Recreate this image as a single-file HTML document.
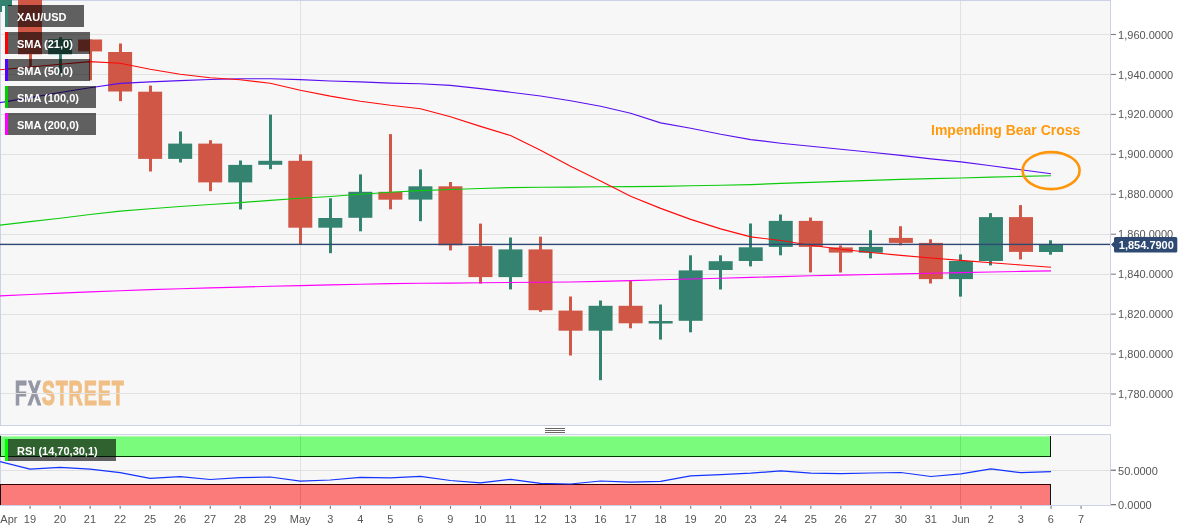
<!DOCTYPE html>
<html lang="en"><head><meta charset="utf-8"><title>XAU/USD daily chart</title>
<style>html,body{margin:0;padding:0;background:#fff;}body{width:1194px;height:532px;overflow:hidden;font-family:"Liberation Sans", Arial, Helvetica, sans-serif;}svg{display:block}</style>
</head><body>
<svg width="1194" height="532" viewBox="0 0 1194 532" font-family='"Liberation Sans", Arial, Helvetica, sans-serif'>
<rect width="1194" height="532" fill="#ffffff"/>
<g shape-rendering="crispEdges">
<rect x="0" y="0" width="1111" height="426" fill="#ccd2e5"/>
<rect x="1" y="1" width="1109" height="424" fill="#f7f7f7"/>
</g>
<g transform="translate(14.8 404.9) scale(0.56 1)" font-weight="bold" font-size="35.4px" letter-spacing="1.4" stroke-width="1.1"><text x="0" y="0" fill="#9497a4" stroke="#9497a4">FX<tspan fill="#f0bf86" stroke="#f0bf86">STREET</tspan></text></g>
<g shape-rendering="crispEdges" fill="#e1e1e1">
<rect x="1" y="34" width="1109" height="1"/>
<rect x="1" y="74" width="1109" height="1"/>
<rect x="1" y="114" width="1109" height="1"/>
<rect x="1" y="154" width="1109" height="1"/>
<rect x="1" y="194" width="1109" height="1"/>
<rect x="1" y="234" width="1109" height="1"/>
<rect x="1" y="274" width="1109" height="1"/>
<rect x="1" y="314" width="1109" height="1"/>
<rect x="1" y="353" width="1109" height="1"/>
<rect x="1" y="393" width="1109" height="1"/>
<rect x="300" y="1" width="1" height="424"/>
<rect x="960" y="1" width="1" height="424"/>
</g>
<defs><clipPath id="cm"><rect x="0" y="0" width="1110" height="425"/></clipPath><clipPath id="cr"><rect x="0" y="435" width="1110" height="71"/></clipPath></defs>
<g clip-path="url(#cm)">
<g>
<rect x="-1" y="-2.0" width="3" height="14.0" fill="#348370"/>
<rect x="-12.00" y="-2.0" width="24" height="8.0" fill="#348370"/>
<rect x="29" y="-2.0" width="3" height="68.6" fill="#d05646"/>
<rect x="18.03" y="-2.0" width="24" height="56.3" fill="#d05646"/>
<rect x="59" y="37.2" width="3" height="37.3" fill="#348370"/>
<rect x="48.06" y="39.2" width="24" height="15.1" fill="#348370"/>
<rect x="89" y="39.5" width="3" height="40.7" fill="#d05646"/>
<rect x="78.09" y="39.5" width="24" height="11.9" fill="#d05646"/>
<rect x="119" y="43.5" width="3" height="57.6" fill="#d05646"/>
<rect x="108.12" y="52.0" width="24" height="39.5" fill="#d05646"/>
<rect x="149" y="85.6" width="3" height="85.9" fill="#d05646"/>
<rect x="138.15" y="91.7" width="24" height="67.2" fill="#d05646"/>
<rect x="179" y="131.5" width="3" height="31.0" fill="#348370"/>
<rect x="168.17" y="143.6" width="24" height="15.3" fill="#348370"/>
<rect x="209" y="140.2" width="3" height="51.0" fill="#d05646"/>
<rect x="198.20" y="143.6" width="24" height="38.8" fill="#d05646"/>
<rect x="239" y="160.5" width="3" height="48.9" fill="#348370"/>
<rect x="228.23" y="164.9" width="24" height="17.5" fill="#348370"/>
<rect x="269" y="114.6" width="3" height="54.6" fill="#348370"/>
<rect x="258.26" y="160.8" width="24" height="4.0" fill="#348370"/>
<rect x="299" y="154.4" width="3" height="90.1" fill="#d05646"/>
<rect x="288.29" y="160.8" width="24" height="66.9" fill="#d05646"/>
<rect x="329" y="198.3" width="3" height="54.9" fill="#348370"/>
<rect x="318.32" y="218.0" width="24" height="9.7" fill="#348370"/>
<rect x="359" y="174.4" width="3" height="56.9" fill="#348370"/>
<rect x="348.35" y="191.8" width="24" height="26.0" fill="#348370"/>
<rect x="389" y="134.1" width="3" height="75.2" fill="#d05646"/>
<rect x="378.38" y="191.8" width="24" height="7.9" fill="#d05646"/>
<rect x="419" y="169.4" width="3" height="51.8" fill="#348370"/>
<rect x="408.41" y="186.3" width="24" height="13.3" fill="#348370"/>
<rect x="449" y="182.0" width="3" height="68.4" fill="#d05646"/>
<rect x="438.44" y="186.3" width="24" height="59.0" fill="#d05646"/>
<rect x="479" y="223.6" width="3" height="60.0" fill="#d05646"/>
<rect x="468.46" y="246.1" width="24" height="31.0" fill="#d05646"/>
<rect x="509" y="237.5" width="3" height="51.9" fill="#348370"/>
<rect x="498.49" y="249.4" width="24" height="27.7" fill="#348370"/>
<rect x="539" y="236.7" width="3" height="75.1" fill="#d05646"/>
<rect x="528.52" y="249.4" width="24" height="60.8" fill="#d05646"/>
<rect x="569" y="296.5" width="3" height="59.0" fill="#d05646"/>
<rect x="558.55" y="310.6" width="24" height="20.1" fill="#d05646"/>
<rect x="599" y="300.5" width="3" height="79.7" fill="#348370"/>
<rect x="588.58" y="305.8" width="24" height="24.9" fill="#348370"/>
<rect x="629" y="280.5" width="3" height="47.8" fill="#d05646"/>
<rect x="618.61" y="305.8" width="24" height="17.5" fill="#d05646"/>
<rect x="659" y="304.5" width="3" height="35.1" fill="#348370"/>
<rect x="648.64" y="321.0" width="24" height="2.5" fill="#348370"/>
<rect x="689" y="255.3" width="3" height="77.0" fill="#348370"/>
<rect x="678.67" y="270.4" width="24" height="50.4" fill="#348370"/>
<rect x="719" y="255.3" width="3" height="34.2" fill="#348370"/>
<rect x="708.70" y="261.2" width="24" height="8.8" fill="#348370"/>
<rect x="749" y="223.5" width="3" height="42.9" fill="#348370"/>
<rect x="738.73" y="247.3" width="24" height="13.7" fill="#348370"/>
<rect x="779" y="214.5" width="3" height="40.8" fill="#348370"/>
<rect x="768.75" y="220.9" width="24" height="26.0" fill="#348370"/>
<rect x="809" y="217.5" width="3" height="54.9" fill="#d05646"/>
<rect x="798.78" y="220.9" width="24" height="26.0" fill="#d05646"/>
<rect x="839" y="245.5" width="3" height="27.0" fill="#d05646"/>
<rect x="828.81" y="247.4" width="24" height="5.2" fill="#d05646"/>
<rect x="869" y="230.2" width="3" height="28.2" fill="#348370"/>
<rect x="858.84" y="246.9" width="24" height="5.8" fill="#348370"/>
<rect x="899" y="226.2" width="3" height="19.1" fill="#d05646"/>
<rect x="888.87" y="237.9" width="24" height="5.0" fill="#d05646"/>
<rect x="929" y="239.3" width="3" height="44.2" fill="#d05646"/>
<rect x="918.90" y="242.9" width="24" height="36.2" fill="#d05646"/>
<rect x="959" y="254.4" width="3" height="42.2" fill="#348370"/>
<rect x="948.93" y="261.0" width="24" height="18.1" fill="#348370"/>
<rect x="989" y="213.1" width="3" height="52.3" fill="#348370"/>
<rect x="978.96" y="217.1" width="24" height="43.9" fill="#348370"/>
<rect x="1019" y="205.1" width="3" height="54.3" fill="#d05646"/>
<rect x="1008.99" y="217.1" width="24" height="34.8" fill="#d05646"/>
<rect x="1049" y="240.3" width="3" height="14.4" fill="#348370"/>
<rect x="1039.02" y="244.5" width="24" height="7.5" fill="#348370"/>
</g>
<polyline points="0.00,295.9 30.03,294.5 60.06,293.1 90.09,291.9 120.12,290.7 150.15,289.6 180.17,288.7 210.20,287.9 240.23,287.1 270.26,286.3 300.29,285.6 330.32,284.9 360.35,284.2 390.38,283.6 420.41,283.3 450.44,283.1 480.46,282.8 510.49,282.5 540.52,282.3 570.55,282.0 600.58,281.4 630.61,280.6 660.64,279.8 690.67,279.0 720.70,278.2 750.73,277.4 780.75,276.6 810.78,275.8 840.81,275.1 870.84,274.5 900.87,273.9 930.90,273.3 960.93,272.6 990.96,272.0 1020.99,271.4 1051.02,270.9" fill="none" stroke="#ff00ff" stroke-width="1.15" stroke-linejoin="round"/>
<polyline points="0.00,225.2 30.03,221.6 60.06,218.2 90.09,214.5 120.12,211.1 150.15,208.7 180.17,206.5 210.20,204.5 240.23,202.6 270.26,200.4 300.29,198.3 330.32,196.5 360.35,194.2 390.38,192.2 420.41,190.6 450.44,189.5 480.46,188.5 510.49,187.6 540.52,187.2 570.55,187.1 600.58,186.8 630.61,186.6 660.64,186.4 690.67,185.7 720.70,185.2 750.73,184.6 780.75,183.4 810.78,182.4 840.81,181.4 870.84,180.4 900.87,179.4 930.90,178.6 960.93,178.0 990.96,177.1 1020.99,176.4 1051.02,175.7" fill="none" stroke="#0ccc0c" stroke-width="1.15" stroke-linejoin="round"/>
<polyline points="0.00,102.7 30.03,97.6 60.06,92.5 90.09,87.7 120.12,83.4 150.15,81.9 180.17,80.6 210.20,79.5 240.23,78.8 270.26,78.7 300.29,79.6 330.32,81.0 360.35,81.9 390.38,83.1 420.41,83.7 450.44,85.4 480.46,88.6 510.49,92.2 540.52,96.0 570.55,100.7 600.58,106.2 630.61,113.2 660.64,122.9 690.67,128.3 720.70,134.3 750.73,139.6 780.75,143.2 810.78,146.2 840.81,149.2 870.84,152.3 900.87,155.4 930.90,158.9 960.93,161.9 990.96,165.7 1020.99,169.7 1051.02,173.8" fill="none" stroke="#5a10f0" stroke-width="1.15" stroke-linejoin="round"/>
<polyline points="0.00,69.8 30.03,67.0 60.06,64.2 90.09,61.6 120.12,63.3 150.15,69.2 180.17,74.2 210.20,77.8 240.23,79.8 270.26,83.3 300.29,90.3 330.32,96.1 360.35,101.2 390.38,105.3 420.41,108.7 450.44,116.7 480.46,126.4 510.49,135.5 540.52,150.3 570.55,166.3 600.58,180.9 630.61,196.3 660.64,208.4 690.67,219.4 720.70,228.9 750.73,236.9 780.75,240.5 810.78,245.2 840.81,249.2 870.84,252.5 900.87,255.4 930.90,258.0 960.93,260.4 990.96,262.8 1020.99,265.0 1051.02,267.2" fill="none" stroke="#ff0a0a" stroke-width="1.15" stroke-linejoin="round"/>
<rect x="0" y="243.7" width="1110" height="1.4" fill="#2e4a73"/>
</g>
<text x="931" y="135" font-size="14px" font-weight="bold" fill="#ff9a0e">Impending Bear Cross</text>
<ellipse cx="1051.1" cy="170.6" rx="28.5" ry="18.5" fill="none" stroke="#ff960a" stroke-width="2.6"/>
<g shape-rendering="crispEdges"><rect x="5" y="5" width="3" height="22" fill="#348370"/><rect x="8" y="5" width="76" height="22" fill="#000" fill-opacity="0.61"/></g>
<text x="17" y="20.9" font-size="11px" font-weight="bold" fill="#ffffff">XAU/USD</text>
<g shape-rendering="crispEdges"><rect x="5" y="32" width="3" height="22" fill="#ff0000"/><rect x="8" y="32" width="82" height="22" fill="#000" fill-opacity="0.61"/></g>
<text x="17" y="47.9" font-size="11px" font-weight="bold" fill="#ffffff">SMA (21,0)</text>
<g shape-rendering="crispEdges"><rect x="5" y="59" width="3" height="22" fill="#5500ff"/><rect x="8" y="59" width="82" height="22" fill="#000" fill-opacity="0.61"/></g>
<text x="17" y="74.9" font-size="11px" font-weight="bold" fill="#ffffff">SMA (50,0)</text>
<g shape-rendering="crispEdges"><rect x="5" y="86" width="3" height="22" fill="#00d000"/><rect x="8" y="86" width="88" height="22" fill="#000" fill-opacity="0.61"/></g>
<text x="17" y="101.9" font-size="11px" font-weight="bold" fill="#ffffff">SMA (100,0)</text>
<g shape-rendering="crispEdges"><rect x="5" y="113" width="3" height="22" fill="#ff00ff"/><rect x="8" y="113" width="88" height="22" fill="#000" fill-opacity="0.61"/></g>
<text x="17" y="128.9" font-size="11px" font-weight="bold" fill="#ffffff">SMA (200,0)</text>
<g font-size="11px" fill="#555555">
<rect x="1111" y="33.95" width="5" height="1" fill="#757575"/>
<text x="1118.1" y="39">1,960.0000</text>
<rect x="1111" y="73.90" width="5" height="1" fill="#757575"/>
<text x="1118.1" y="79">1,940.0000</text>
<rect x="1111" y="113.85" width="5" height="1" fill="#757575"/>
<text x="1118.1" y="118">1,920.0000</text>
<rect x="1111" y="153.80" width="5" height="1" fill="#757575"/>
<text x="1118.1" y="158">1,900.0000</text>
<rect x="1111" y="193.75" width="5" height="1" fill="#757575"/>
<text x="1118.1" y="198">1,880.0000</text>
<rect x="1111" y="233.70" width="5" height="1" fill="#757575"/>
<text x="1118.1" y="238">1,860.0000</text>
<rect x="1111" y="273.65" width="5" height="1" fill="#757575"/>
<text x="1118.1" y="278">1,840.0000</text>
<rect x="1111" y="313.60" width="5" height="1" fill="#757575"/>
<text x="1118.1" y="318">1,820.0000</text>
<rect x="1111" y="353.55" width="5" height="1" fill="#757575"/>
<text x="1118.1" y="358">1,800.0000</text>
<rect x="1111" y="393.50" width="5" height="1" fill="#757575"/>
<text x="1118.1" y="398">1,780.0000</text>
</g>
<path d="M1111 244.6 L1114 241.8 V238.4 Q1114 236.9 1115.5 236.9 H1175.8 Q1177.3 236.9 1177.3 238.4 V250.9 Q1177.3 252.4 1175.8 252.4 H1115.5 Q1114 252.4 1114 250.9 V247.4 Z" fill="#2e4a73"/>
<text x="1118.8" y="248.7" font-size="11px" font-weight="bold" fill="#ffffff">1,854.7900</text>
<g shape-rendering="crispEdges" fill="#6a6664"><rect x="545" y="428" width="20" height="1"/><rect x="545" y="430" width="20" height="1"/><rect x="545" y="432" width="20" height="1"/></g>
<g shape-rendering="crispEdges">
<rect x="0" y="434" width="1111" height="72" fill="#ccd2e5"/>
<rect x="1" y="435" width="1109" height="70.4" fill="#f7f7f7"/>
<rect x="1" y="470" width="1109" height="1" fill="#e1e1e1"/>
<rect x="300" y="435" width="1" height="70" fill="#e1e1e1"/>
<rect x="960" y="435" width="1" height="70" fill="#e1e1e1"/>
<rect x="1" y="436.4" width="1050" height="19.6" fill="#00ff00" fill-opacity="0.5" shape-rendering="auto"/>
<rect x="1" y="484.3" width="1050" height="21" fill="#ff0000" fill-opacity="0.5"/>
<rect x="0" y="436" width="1" height="21" fill="#111"/><rect x="0" y="484" width="1" height="21.4" fill="#111"/>
<rect x="0" y="456" width="1051" height="1" fill="#003a00"/>
<rect x="0" y="484" width="1051" height="1" fill="#3a0000"/>
<rect x="1050" y="436" width="1" height="21" fill="#111"/><rect x="1050" y="484" width="1" height="21.4" fill="#111"/>
<rect x="300" y="436" width="1" height="20" fill="#000" fill-opacity="0.05"/><rect x="300" y="485" width="1" height="20" fill="#000" fill-opacity="0.05"/>
<rect x="960" y="436" width="1" height="20" fill="#000" fill-opacity="0.05"/><rect x="960" y="485" width="1" height="20" fill="#000" fill-opacity="0.05"/>
</g>
<g clip-path="url(#cr)">
<polyline points="0.00,461.7 30.03,469.2 60.06,467.4 90.09,469.2 120.12,472.7 150.15,478.4 180.17,476.7 210.20,479.5 240.23,477.7 270.26,477.0 300.29,481.2 330.32,480.0 360.35,477.4 390.38,477.9 420.41,476.3 450.44,480.5 480.46,482.8 510.49,479.3 540.52,483.3 570.55,484.0 600.58,481.0 630.61,482.1 660.64,481.4 690.67,475.8 720.70,474.6 750.73,473.2 780.75,470.9 810.78,473.2 840.81,473.7 870.84,473.0 900.87,472.5 930.90,476.5 960.93,473.9 990.96,468.8 1020.99,472.7 1051.02,471.6" fill="none" stroke="#1434ff" stroke-width="1.25" stroke-linejoin="round"/>
</g>
<g shape-rendering="crispEdges"><rect x="5" y="439" width="3" height="22" fill="#00ff00"/><rect x="8" y="439" width="108" height="22" fill="#000" fill-opacity="0.61"/></g>
<text x="17" y="454.9" font-size="11px" font-weight="bold" fill="#ffffff">RSI (14,70,30,1)</text>
<g font-size="11px" fill="#555555">
<rect x="1111" y="469.6" width="5" height="1.3" fill="#777"/><text x="1118.1" y="475.3">50.0000</text>
<rect x="1111" y="504" width="5" height="1.3" fill="#777"/><text x="1118.1" y="508.8">0.0000</text>
</g>
<g font-size="11px" fill="#555555" text-anchor="middle">
<text x="0.3" y="523" text-anchor="start">Apr</text>
<rect x="29.53" y="506" width="1.1" height="2.8" fill="#777"/>
<text x="29.93" y="523.2">19</text>
<rect x="59.56" y="506" width="1.1" height="2.8" fill="#777"/>
<text x="59.96" y="523.2">20</text>
<rect x="89.59" y="506" width="1.1" height="2.8" fill="#777"/>
<text x="89.99" y="523.2">21</text>
<rect x="119.62" y="506" width="1.1" height="2.8" fill="#777"/>
<text x="120.02" y="523.2">22</text>
<rect x="149.65" y="506" width="1.1" height="2.8" fill="#777"/>
<text x="150.05" y="523.2">25</text>
<rect x="179.67" y="506" width="1.1" height="2.8" fill="#777"/>
<text x="180.07" y="523.2">26</text>
<rect x="209.70" y="506" width="1.1" height="2.8" fill="#777"/>
<text x="210.10" y="523.2">27</text>
<rect x="239.73" y="506" width="1.1" height="2.8" fill="#777"/>
<text x="240.13" y="523.2">28</text>
<rect x="269.76" y="506" width="1.1" height="2.8" fill="#777"/>
<text x="270.16" y="523.2">29</text>
<rect x="299.79" y="506" width="1.1" height="2.8" fill="#777"/>
<text x="300.19" y="523.2">May</text>
<rect x="329.82" y="506" width="1.1" height="2.8" fill="#777"/>
<text x="330.22" y="523.2">3</text>
<rect x="359.85" y="506" width="1.1" height="2.8" fill="#777"/>
<text x="360.25" y="523.2">4</text>
<rect x="389.88" y="506" width="1.1" height="2.8" fill="#777"/>
<text x="390.28" y="523.2">5</text>
<rect x="419.91" y="506" width="1.1" height="2.8" fill="#777"/>
<text x="420.31" y="523.2">6</text>
<rect x="449.94" y="506" width="1.1" height="2.8" fill="#777"/>
<text x="450.34" y="523.2">9</text>
<rect x="479.96" y="506" width="1.1" height="2.8" fill="#777"/>
<text x="480.36" y="523.2">10</text>
<rect x="509.99" y="506" width="1.1" height="2.8" fill="#777"/>
<text x="510.39" y="523.2">11</text>
<rect x="540.02" y="506" width="1.1" height="2.8" fill="#777"/>
<text x="540.42" y="523.2">12</text>
<rect x="570.05" y="506" width="1.1" height="2.8" fill="#777"/>
<text x="570.45" y="523.2">13</text>
<rect x="600.08" y="506" width="1.1" height="2.8" fill="#777"/>
<text x="600.48" y="523.2">16</text>
<rect x="630.11" y="506" width="1.1" height="2.8" fill="#777"/>
<text x="630.51" y="523.2">17</text>
<rect x="660.14" y="506" width="1.1" height="2.8" fill="#777"/>
<text x="660.54" y="523.2">18</text>
<rect x="690.17" y="506" width="1.1" height="2.8" fill="#777"/>
<text x="690.57" y="523.2">19</text>
<rect x="720.20" y="506" width="1.1" height="2.8" fill="#777"/>
<text x="720.60" y="523.2">20</text>
<rect x="750.23" y="506" width="1.1" height="2.8" fill="#777"/>
<text x="750.63" y="523.2">23</text>
<rect x="780.25" y="506" width="1.1" height="2.8" fill="#777"/>
<text x="780.65" y="523.2">24</text>
<rect x="810.28" y="506" width="1.1" height="2.8" fill="#777"/>
<text x="810.68" y="523.2">25</text>
<rect x="840.31" y="506" width="1.1" height="2.8" fill="#777"/>
<text x="840.71" y="523.2">26</text>
<rect x="870.34" y="506" width="1.1" height="2.8" fill="#777"/>
<text x="870.74" y="523.2">27</text>
<rect x="900.37" y="506" width="1.1" height="2.8" fill="#777"/>
<text x="900.77" y="523.2">30</text>
<rect x="930.40" y="506" width="1.1" height="2.8" fill="#777"/>
<text x="930.80" y="523.2">31</text>
<rect x="960.43" y="506" width="1.1" height="2.8" fill="#777"/>
<text x="960.83" y="523.2">Jun</text>
<rect x="990.46" y="506" width="1.1" height="2.8" fill="#777"/>
<text x="990.86" y="523.2">2</text>
<rect x="1020.49" y="506" width="1.1" height="2.8" fill="#777"/>
<text x="1020.89" y="523.2">3</text>
<rect x="1050.52" y="506" width="1.1" height="2.8" fill="#777"/>
<text x="1050.92" y="523.2">6</text>
<rect x="1080.54" y="506" width="1.1" height="2.8" fill="#777"/>
<text x="1080.94" y="523.2">7</text>
</g>
</svg>
</body></html>
